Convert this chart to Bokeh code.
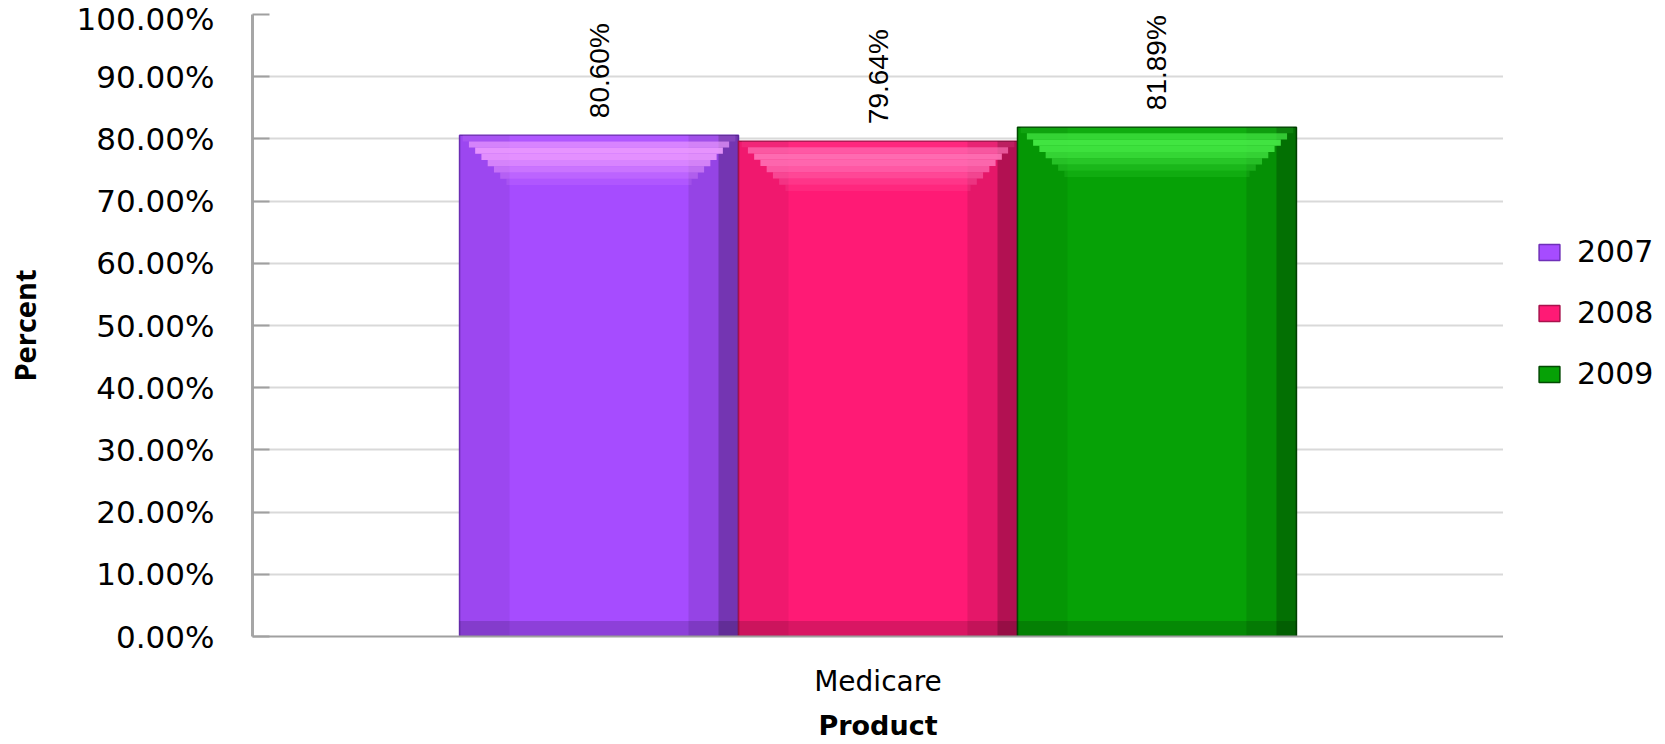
import math
from bokeh.plotting import figure
from bokeh.layouts import row
from bokeh.models import (FactorRange, Range1d, NumeralTickFormatter, Legend, LegendItem,
                          ColumnDataSource, FixedTicker)
from bokeh.transform import dodge
from bokeh.core.properties import value
from bokeh.embed import file_html
from bokeh.resources import INLINE

# ---- data ----
products = ["Medicare"]
years = ["2007", "2008", "2009"]
values_2007 = [0.8060]
values_2008 = [0.7964]
values_2009 = [0.8189]
labels_2007 = ["80.60%"]
labels_2008 = ["79.64%"]
labels_2009 = ["81.89%"]
y_tick_values = [0.0, 0.1, 0.2, 0.3, 0.4, 0.5, 0.6, 0.7, 0.8, 0.9, 1.0]

series_values = [values_2007, values_2008, values_2009]
series_labels = [labels_2007, labels_2008, labels_2009]

# ---- styles ----
fill_colors = ["#A64CFF", "#FF1A75", "#06A106"]
edge_colors = ["#6E2FB8", "#A8124C", "#024A02"]
top_colors = ["#EE9CFF", "#FF74B8", "#48EC48"]
bar_width = 0.223
offsets = [-0.223, 0.0, 0.223]
TICK_FONT = "DejaVu Sans"

# bevel styling (category units / data units)
BEVEL_X = 0.040
BEVEL_TOP = 0.080
BEVEL_BOTTOM = 0.025
TOP_STEPS = 8

p = figure(width=1503, height=744,
           x_range=FactorRange(*products), y_range=Range1d(0, 1),
           output_backend="svg", toolbar_location=None,
           min_border_left=252, min_border_right=0,
           min_border_top=14, min_border_bottom=108)

p.outline_line_color = None
p.background_fill_color = "white"
p.border_fill_color = "white"

# y axis
p.yaxis.ticker = FixedTicker(ticks=y_tick_values)
p.yaxis.formatter = NumeralTickFormatter(format="0.00%")
p.yaxis.axis_line_color = "#A6A6A6"
p.yaxis.axis_line_width = 3
p.yaxis.major_tick_in = 17
p.yaxis.major_tick_out = 0
p.yaxis.major_tick_line_color = "#A0A0A0"
p.yaxis.major_tick_line_width = 2
p.yaxis.minor_tick_line_color = None
p.yaxis.major_label_text_font = TICK_FONT
p.yaxis.major_label_text_font_size = "31px"
p.yaxis.major_label_text_color = "black"
p.yaxis.major_label_standoff = 38
p.yaxis.axis_label = "Percent"
p.yaxis.axis_label_text_font = "Open Sans"
p.yaxis.axis_label_text_font_style = "bold"
p.yaxis.axis_label_text_font_size = "29px"
p.yaxis.axis_label_text_color = "black"
p.yaxis.axis_label_standoff = 30

# x axis
p.xaxis.axis_line_color = "#A0A0A0"
p.xaxis.axis_line_width = 2
p.xaxis.major_tick_line_color = None
p.xaxis.minor_tick_line_color = None
p.xaxis.major_label_text_font = TICK_FONT
p.xaxis.major_label_text_font_size = "28px"
p.xaxis.major_label_text_color = "black"
p.xaxis.major_label_standoff = 22
p.xaxis.axis_label = "Product"
p.xaxis.axis_label_text_font = "DejaVu Sans"
p.xaxis.axis_label_text_font_style = "bold"
p.xaxis.axis_label_text_font_size = "27px"
p.xaxis.axis_label_text_color = "black"
p.xaxis.axis_label_standoff = 9

p.xgrid.grid_line_color = None
p.ygrid.grid_line_color = "#D9D9D9"
p.ygrid.grid_line_width = 2
p.ygrid.ticker = FixedTicker(ticks=y_tick_values)

# legend figure (side panel)
lp = figure(width=162, height=744, x_range=FactorRange(*products), y_range=Range1d(0, 1),
            output_backend="svg", toolbar_location=None,
            x_axis_location=None, y_axis_location=None,
            min_border_left=0, min_border_right=0, min_border_top=0, min_border_bottom=0)
lp.outline_line_color = None
lp.xgrid.grid_line_color = None
lp.ygrid.grid_line_color = None
lp.background_fill_color = "white"
lp.border_fill_color = "white"

items = []
for i, yr in enumerate(years):
    vals = series_values[i]
    off = offsets[i]
    src = ColumnDataSource(dict(product=products, value=vals, label=series_labels[i]))
    # main bar
    p.vbar(x=dodge("product", off, range=p.x_range), top="value", bottom=0,
           width=bar_width, source=src, fill_color=fill_colors[i],
           line_color=edge_colors[i], line_width=1.5)
    # side shading
    p.vbar(x=dodge("product", off - bar_width / 2 + BEVEL_X / 2, range=p.x_range),
           top="value", bottom=0, width=BEVEL_X, source=src,
           fill_color="black", fill_alpha=0.06, line_color=None)
    p.vbar(x=dodge("product", off + bar_width / 2 - BEVEL_X / 2, range=p.x_range),
           top="value", bottom=0, width=BEVEL_X, source=src,
           fill_color="black", fill_alpha=0.10, line_color=None)
    p.vbar(x=dodge("product", off + bar_width / 2 - 0.008, range=p.x_range),
           top="value", bottom=0, width=0.016, source=src,
           fill_color="black", fill_alpha=0.22, line_color=None)
    # top bevel (stepped trapezoid, lighter)
    alphas = [0.15, 0.7, 0.9, 0.85, 0.7, 0.5, 0.3, 0.15]
    for k in range(TOP_STEPS):
        step_src = ColumnDataSource(dict(
            product=products,
            top=[v - BEVEL_TOP * k / TOP_STEPS for v in vals],
            bottom=[v - BEVEL_TOP * (k + 1) / TOP_STEPS for v in vals]))
        w = bar_width - 2 * BEVEL_X * (k + 0.5) / TOP_STEPS
        p.vbar(x=dodge("product", off, range=p.x_range), top="top", bottom="bottom",
               width=w, source=step_src, fill_color=top_colors[i],
               fill_alpha=alphas[k], line_color=None)
    # bottom bevel (darker)
    p.vbar(x=dodge("product", off, range=p.x_range), top=BEVEL_BOTTOM, bottom=0,
           width=bar_width, source=src, fill_color="black", fill_alpha=0.15,
           line_color=None)
    # value labels
    p.text(x=dodge("product", off, range=p.x_range), y="value", text="label",
           source=src, angle=math.pi / 2, text_align="left", text_baseline="middle",
           y_offset=-17, text_font=value("Liberation Sans"), text_font_size="28px",
           text_color="black")
    # legend swatch renderer (hidden bar in legend panel)
    lr = lp.vbar(x="product", top="value", bottom=0, width=0.5, source=src,
                 fill_color=fill_colors[i], line_color=edge_colors[i], line_width=1.5,
                 visible=False)
    items.append(LegendItem(label=yr, renderers=[lr]))

legend = Legend(items=items, location=(33, 245), orientation="vertical",
                glyph_width=26, glyph_height=20, label_standoff=15, spacing=26,
                padding=0, margin=0, border_line_color=None, background_fill_alpha=0,
                label_text_font=TICK_FONT, label_text_font_size="30px",
                label_text_color="black", label_height=20)
lp.add_layout(legend, "center")

layout = row(p, lp, spacing=0)
open("out.html", "w").write(file_html(layout, INLINE))
